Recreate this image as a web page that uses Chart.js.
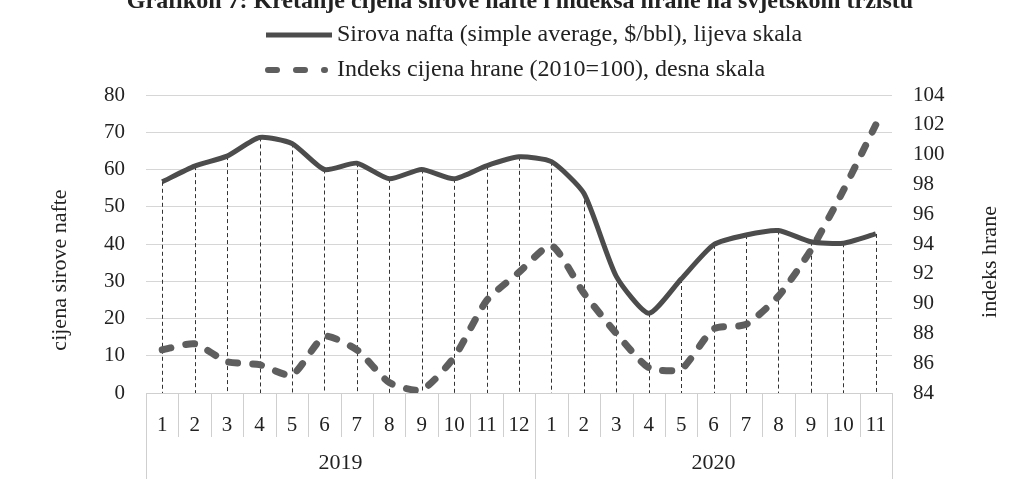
<!DOCTYPE html>
<html>
<head>
<meta charset="utf-8">
<script src="https://cdn.jsdelivr.net/npm/chart.js@4/dist/chart.umd.min.js"></script>
<style>
  html, body { margin: 0; padding: 0; background: #fff; }
  #wrap { position: relative; width: 1018px; height: 492px; }
</style>
</head>
<body>
<div id="wrap"><canvas id="c"></canvas></div>
<script>
const months = ['1','2','3','4','5','6','7','8','9','10','11','12','1','2','3','4','5','6','7','8','9','10','11'];
const years = ['2019', '2020'];
const yearCounts = [12, 11];

// Sirova nafta, $/bbl (lijeva skala)
const oil = [56.7, 60.9, 63.6, 68.6, 67.0, 60.0, 61.7, 57.5, 60.0, 57.5, 61.0, 63.4,
             62.1, 53.6, 31.3, 21.4, 30.6, 39.8, 42.4, 43.6, 40.6, 40.2, 42.7];
// Indeks cijena hrane, 2010=100 (desna skala)
const food = [86.9, 87.3, 86.1, 85.9, 85.2, 87.8, 86.9, 84.7, 84.2, 86.4, 90.2, 92.1,
              93.9, 90.7, 88.0, 85.7, 85.6, 88.3, 88.6, 90.5, 93.6, 97.6, 102.0];

const titleText = 'Grafikon 7: Kretanje cijena sirove nafte i indeksa hrane na svjetskom tržištu';
const leftTitle = 'cijena sirove nafte';
const rightTitle = 'indeks hrane';

const FONT = '"Liberation Serif", "Times New Roman", serif';
const INK = '#222';
const SEP = '#cfcfcf';

/* ---------- dodatni crteži: naslov, legenda, separatori, drop lines ---------- */
const extras = {
    id: 'extras',
    beforeDatasetsDraw(chart) {
        const { ctx, scales: { y } } = chart;
        const meta = chart.getDatasetMeta(0);
        ctx.save();
        ctx.strokeStyle = '#333';
        ctx.lineWidth = 1;
        ctx.setLineDash([4, 3]);
        meta.data.forEach(p => {
            ctx.beginPath();
            ctx.moveTo(Math.round(p.x) + 0.5, p.y);
            ctx.lineTo(Math.round(p.x) + 0.5, y.bottom);
            ctx.stroke();
        });
        ctx.restore();
    },
    afterDraw(chart) {
        const { ctx, scales: { x }, chartArea } = chart;
        const half = (x.getPixelForValue(1) - x.getPixelForValue(0)) / 2;
        ctx.save();

        // separatori mjeseci i godina
        ctx.strokeStyle = SEP;
        ctx.lineWidth = 1;
        let idx = 0;
        const bounds = [0];
        yearCounts.forEach(n => { idx += n; bounds.push(idx); });
        for (let i = 0; i <= months.length; i++) {
            const px = Math.round(x.getPixelForValue(i) - half) + 0.5;
            const isYear = bounds.includes(i);
            ctx.beginPath();
            ctx.moveTo(px, chartArea.bottom);
            ctx.lineTo(px, chartArea.bottom + (isYear ? 86 : 44));
            ctx.stroke();
        }

        ctx.fillStyle = INK;
        ctx.font = '22px ' + FONT;
        ctx.textAlign = 'center';
        ctx.textBaseline = 'middle';
        years.forEach((yr, k) => {
            const a = x.getPixelForValue(bounds[k]) - half;
            const b = x.getPixelForValue(bounds[k + 1]) - half;
            ctx.fillText(yr, (a + b) / 2, chartArea.bottom + 70);
        });

        // naslovi osi
        ctx.font = '22px ' + FONT;
        ctx.save();
        ctx.translate(60, 270);
        ctx.rotate(-Math.PI / 2);
        ctx.fillText(leftTitle, 0, 0);
        ctx.restore();
        ctx.save();
        ctx.translate(990, 262);
        ctx.rotate(-Math.PI / 2);
        ctx.fillText(rightTitle, 0, 0);
        ctx.restore();

        // naslov (odrezan gore)
        ctx.font = 'bold 24px ' + FONT;
        ctx.textBaseline = 'alphabetic';
        ctx.fillText(titleText, 520, 8);

        // legenda
        const ds = chart.data.datasets;
        const rows = [35, 70];
        ctx.textAlign = 'left';
        ctx.textBaseline = 'middle';
        ctx.font = '24px ' + FONT;
        ds.forEach((d, i) => {
            const yy = rows[i];
            ctx.strokeStyle = d.borderColor;
            ctx.lineCap = d.borderCapStyle || 'butt';
            ctx.beginPath();
            if (i === 0) {
                ctx.lineWidth = d.borderWidth;
                ctx.moveTo(266, yy);
                ctx.lineTo(332, yy);
            } else {
                ctx.lineWidth = 6;
                ctx.setLineDash([9, 19]);
                ctx.moveTo(268, yy);
                ctx.lineTo(325, yy);
            }
            ctx.stroke();
            ctx.setLineDash([]);
            ctx.fillStyle = INK;
            ctx.fillText(d.label, 337, yy);
        });
        ctx.restore();
    }
};

new Chart(document.getElementById('c'), {
    type: 'line',
    data: {
        labels: months,
        datasets: [
            {
                label: 'Sirova nafta (simple average, $/bbl), lijeva skala',
                data: oil,
                yAxisID: 'y',
                borderColor: '#4c4c4c',
                borderWidth: 5,
                pointRadius: 0,
                tension: 0.2,
                borderCapStyle: 'butt'
            },
            {
                label: 'Indeks cijena hrane (2010=100), desna skala',
                data: food,
                yAxisID: 'y1',
                borderColor: '#5e5e5e',
                borderWidth: 7,
                borderDash: [9, 15],
                borderCapStyle: 'round',
                pointRadius: 0,
                tension: 0.2
            }
        ]
    },
    options: {
        responsive: true,
        maintainAspectRatio: false,
        animation: false,
        layout: { padding: { top: 95, left: 0, right: 0, bottom: 0 } },
        plugins: { legend: { display: false }, title: { display: false }, tooltip: { enabled: false } },
        scales: {
            x: {
                offset: true,
                grid: { display: false },
                border: { display: true, color: SEP },
                ticks: { color: INK, font: { family: FONT, size: 21 }, padding: 12, maxRotation: 0, autoSkip: false },
                afterFit: s => { s.height = 99; }
            },
            y: {
                position: 'left',
                min: 0, max: 80,
                grid: { color: '#d6d6d6', drawTicks: false },
                border: { display: false },
                ticks: { stepSize: 10, color: INK, font: { family: FONT, size: 21 }, padding: 21 },
                afterFit: s => { s.width = 146; }
            },
            y1: {
                position: 'right',
                min: 84, max: 104,
                grid: { display: false, drawTicks: false },
                border: { display: false },
                ticks: { stepSize: 2, color: INK, font: { family: FONT, size: 21 }, padding: 21 },
                afterFit: s => { s.width = 126; }
            }
        }
    },
    plugins: [extras]
});
</script>
</body>
</html>
